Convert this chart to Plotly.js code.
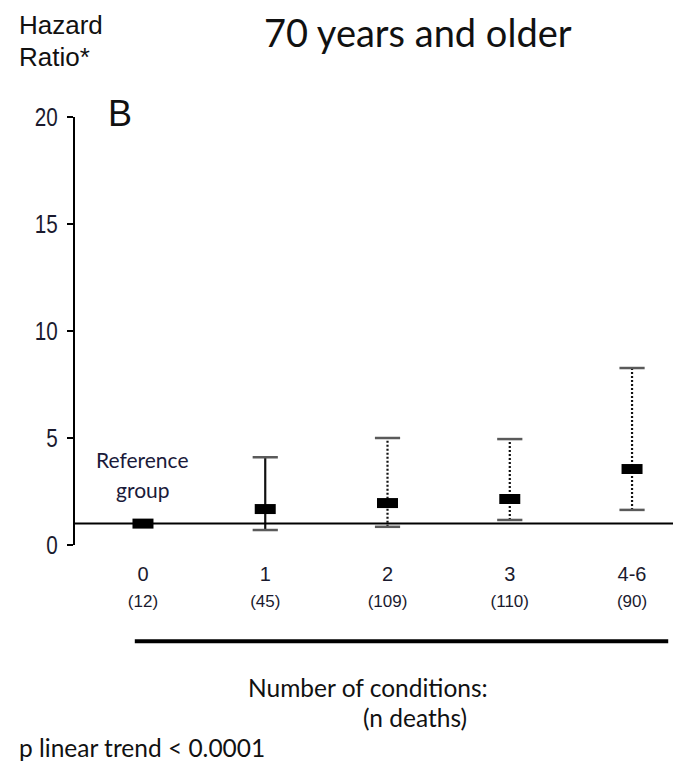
<!DOCTYPE html>
<html><head><meta charset="utf-8">
<script src="https://cdn.plot.ly/plotly-3.0.1.min.js"></script>
<style>html,body{margin:0;padding:0;background:#fff}</style>
</head><body>
<div id="chart" style="width:673px;height:762px"></div>
<script>
const categories = ["0", "1", "2", "3", "4-6"];
const deaths = [12, 45, 109, 110, 90];
const hazardRatio = [1.0, 1.68, 1.96, 2.15, 3.55];
const ciLower = [null, 0.70, 0.85, 1.17, 1.64];
const ciUpper = [null, 4.10, 5.00, 4.95, 8.27];
const referenceValue = 1;
const yTicks = [0, 5, 10, 15, 20];

const xs = categories.map((c, i) => i);
const traces = [];
xs.forEach((x, i) => {
  if (ciLower[i] === null) return;
  traces.push({
    type: 'scatter', mode: 'lines', x: [x, x], y: [ciLower[i], ciUpper[i]],
    line: {color: '#111', width: 2.2, dash: i === 1 ? 'solid' : '2px,2px'},
    hoverinfo: 'skip', showlegend: false
  });
});
const capX = [], capY = [];
xs.forEach((x, i) => {
  if (ciLower[i] === null) return;
  capX.push(x, x); capY.push(ciLower[i], ciUpper[i]);
});
traces.push({
  type: 'scatter', mode: 'markers', x: capX, y: capY,
  marker: {symbol: 'line-ew', size: 18, line: {color: '#5a5a5a', width: 2.5}},
  hoverinfo: 'skip', showlegend: false
});
traces.push({
  type: 'scatter', mode: 'markers', x: xs, y: hazardRatio,
  marker: {symbol: 'line-ew', size: 15, line: {color: '#000', width: 10}},
  showlegend: false
});

const tickText = categories.map((c, i) =>
  c + "<br><span style='font-size:17px'>(" + deaths[i] + ")</span>");

const sans = '"Liberation Sans", Arial, sans-serif';
const cal = 'Lato, "Open Sans", sans-serif';
const layout = {
  width: 673, height: 762,
  margin: {l: 75, r: 0, t: 117, b: 217},
  paper_bgcolor: '#fff', plot_bgcolor: '#fff',
  showlegend: false,
  font: {family: cal, color: '#1a1a2e'},
  xaxis: {
    range: [-0.556, 4.335], showgrid: false, zeroline: false, showline: false,
    tickmode: 'array', tickvals: xs, ticktext: tickText, ticks: '',
    ticklabelstandoff: 15,
    tickfont: {size: 20, family: sans, color: '#1a1a2e'}
  },
  yaxis: {
    range: [0, 20], showgrid: false, zeroline: false, showline: true,
    linecolor: '#000', linewidth: 2, tickmode: 'array', tickvals: yTicks,
    ticks: 'outside', ticklen: 6, tickwidth: 2, tickcolor: '#000',
    ticklabelstandoff: 4,
    tickfont: {size: 26, family: sans, color: '#1a1a2e'}
  },
  shapes: [
    {type: 'line', xref: 'paper', yref: 'y', x0: 0, x1: 1, y0: referenceValue, y1: referenceValue,
     line: {color: '#000', width: 2}},
    {type: 'line', xref: 'paper', yref: 'paper', x0: 0.1, x1: 0.992, y0: -0.225, y1: -0.225,
     line: {color: '#000', width: 4}}
  ],
  annotations: [
    {text: '70 years and older', xref: 'paper', yref: 'paper', x: 0.573, y: 1.199, xanchor: 'center', yanchor: 'middle',
     showarrow: false, font: {size: 38, family: cal, color: '#111'}},
    {text: 'Hazard', xref: 'paper', yref: 'paper', x: -0.097, y: 1.215, xanchor: 'left', yanchor: 'middle',
     showarrow: false, font: {size: 26, family: sans, color: '#111'}},
    {text: 'Ratio*', xref: 'paper', yref: 'paper', x: -0.097, y: 1.140, xanchor: 'left', yanchor: 'middle',
     showarrow: false, font: {size: 26, family: sans, color: '#111'}},
    {text: 'B', xref: 'paper', yref: 'paper', x: 0.052, y: 1.009, xanchor: 'left', yanchor: 'middle',
     showarrow: false, font: {size: 36, family: sans, color: '#111'}},
    {text: 'Reference', xref: 'x', yref: 'y', x: 0, y: 3.99, xanchor: 'center', yanchor: 'middle',
     showarrow: false, font: {size: 21, family: cal, color: '#1a1a3a'}},
    {text: 'group', xref: 'x', yref: 'y', x: 0, y: 2.59, xanchor: 'center', yanchor: 'middle',
     showarrow: false, font: {size: 21, family: cal, color: '#1a1a3a'}},
    {text: 'Number of conditions:', xref: 'paper', yref: 'paper', x: 0.49, y: -0.334, xanchor: 'center', yanchor: 'middle',
     showarrow: false, font: {size: 24.5, family: cal, color: '#111'}},
    {text: '(n deaths)', xref: 'paper', yref: 'paper', x: 0.569, y: -0.404, xanchor: 'center', yanchor: 'middle',
     showarrow: false, font: {size: 24.5, family: cal, color: '#111'}},
    {text: 'p linear trend < 0.0001', xref: 'paper', yref: 'paper', x: -0.097, y: -0.474, xanchor: 'left', yanchor: 'middle',
     showarrow: false, font: {size: 24.5, family: cal, color: '#111'}}
  ]
};
Plotly.newPlot('chart', traces, layout, {displayModeBar: false, staticPlot: true}).then(() => {
  document.querySelectorAll('#chart .ytick text').forEach(t => {
    const n = t.textContent.length;
    t.setAttribute('textLength', String(n * 11.5));
    t.setAttribute('lengthAdjust', 'spacingAndGlyphs');
  });
});
</script>
</body></html>
